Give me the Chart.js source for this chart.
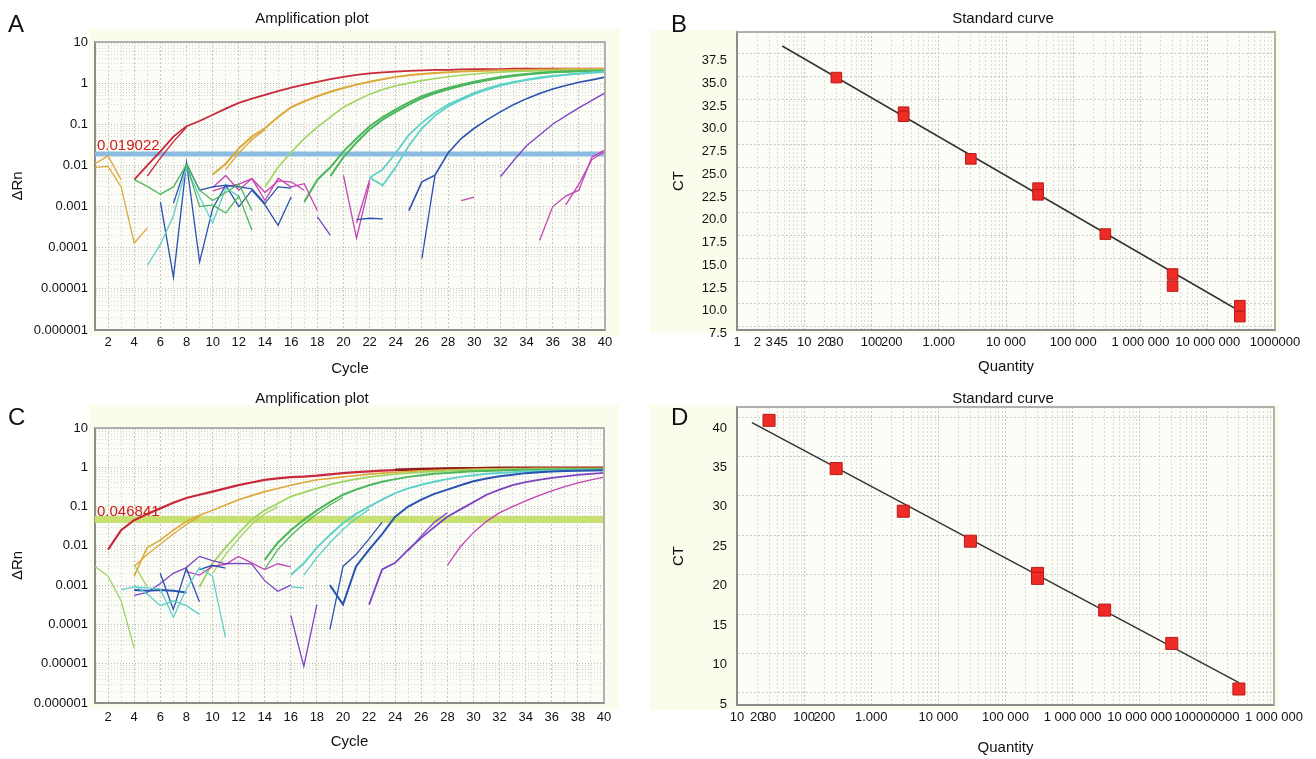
<!DOCTYPE html>
<html>
<head>
<meta charset="utf-8">
<script src="https://cdn.jsdelivr.net/npm/chart.js@4.4.1/dist/chart.umd.min.js"></script>
<style>
body { margin: 0; background: #fff; width: 1316px; height: 759px; position: relative; overflow: hidden; font-family: "Liberation Sans", Arial, sans-serif; color: #111; }
canvas { position: absolute; z-index: 1; }
.title { position: absolute; z-index: 2; font-size: 15px; line-height: 17px; transform: translateX(-50%); white-space: nowrap; }
.letter { position: absolute; z-index: 2; font-size: 24px; line-height: 27px; }
</style>
</head>
<body>
<canvas id="chart-a" width="620" height="380" style="left:0;top:0"></canvas>
<canvas id="chart-b" width="666" height="380" style="left:650px;top:0"></canvas>
<canvas id="chart-c" width="620" height="379" style="left:0;top:380px"></canvas>
<canvas id="chart-d" width="666" height="379" style="left:650px;top:380px"></canvas>
<div class="letter" style="left:8px;top:10px">A</div>
<div class="letter" style="left:671px;top:10px">B</div>
<div class="letter" style="left:8px;top:403px">C</div>
<div class="letter" style="left:671px;top:403px">D</div>
<div class="title" style="left:312px;top:9px">Amplification plot</div>
<div class="title" style="left:1003px;top:9px">Standard curve</div>
<div class="title" style="left:312px;top:389px">Amplification plot</div>
<div class="title" style="left:1003px;top:389px">Standard curve</div>
<script>
// ---- data ----
const cycles = [1, 2, 3, 4, 5, 6, 7, 8, 9, 10, 11, 12, 13, 14, 15, 16, 17, 18, 19, 20,
    21, 22, 23, 24, 25, 26, 27, 28, 29, 30, 31, 32, 33, 34, 35, 36, 37, 38, 39, 40];

// a trace starts at some cycle, nothing is plotted before or after it
function fromCycle(start, values) {
    return cycles.map((c) => {
        const i = c - start;
        return i >= 0 && i < values.length ? values[i] : null;
    });
}

const amp_decades = [0.000001, 0.00001, 0.0001, 0.001, 0.01, 0.1, 1, 10];
const amp_decade_labels = ["0.000001", "0.00001", "0.0001", "0.001", "0.01", "0.1", "1", "10"];
const threshold_a = 0.019022;
const threshold_c = 0.046841;

// panel A
const a_red1 = fromCycle(4, [0.0045, 0.01, 0.022, 0.05, 0.09, 0.12, 0.17, 0.24, 0.33, 0.42, 0.52, 0.64, 0.78, 0.92, 1.08, 1.25, 1.42, 1.58, 1.72, 1.82, 1.9, 1.98, 2.05, 2.1, 2.1, 2.15, 2.2, 2.2, 2.2, 2.25, 2.25, 2.25, 2.25, 2.25, 2.25, 2.25, 2.25]);
const a_red2 = fromCycle(5, [0.0055, 0.015, 0.038, 0.085]);
const a_gold1 = fromCycle(1, [0.009, 0.0095, 0.003, 0.00013, 0.0003]);
const a_gold2 = fromCycle(1, [0.011, 0.017, 0.0045]);
const a_gold_rise1 = fromCycle(10, [0.006, 0.011, 0.026, 0.05, 0.08, 0.15, 0.26, 0.36, 0.48, 0.62, 0.76, 0.92, 1.08, 1.25, 1.42, 1.55, 1.66, 1.76, 1.85, 1.92, 1.97, 2.0, 2.05, 2.1, 2.1, 2.15, 2.15, 2.2, 2.2, 2.2, 2.2]);
const a_gold_rise2 = fromCycle(11, [0.008, 0.02, 0.042, 0.075]);
const a_ltgreen = fromCycle(14, [0.003, 0.009, 0.021, 0.045, 0.085, 0.15, 0.26, 0.38, 0.54, 0.7, 0.86, 1.0, 1.15, 1.3, 1.43, 1.55, 1.67, 1.77, 1.85, 1.92, 1.96, 2.0, 2.0, 2.05, 2.05, 2.1, 2.1]);
const a_green_base1 = fromCycle(4, [0.0045, 0.0031, 0.002, 0.003, 0.0105, 0.001, 0.0011, 0.0007, 0.0018, 0.00027]);
const a_green_base2 = fromCycle(8, [0.011, 0.0025, 0.0014, 0.0022, 0.0035, 0.0008]);
const a_green1 = fromCycle(17, [0.0013, 0.0045, 0.009, 0.022, 0.045, 0.09, 0.15, 0.23, 0.34, 0.48, 0.62, 0.76, 0.92, 1.08, 1.25, 1.42, 1.55, 1.68, 1.78, 1.86, 1.92, 1.96, 2.0, 2.0]);
const a_green2 = fromCycle(19, [0.0055, 0.016, 0.036, 0.075, 0.13, 0.2, 0.3, 0.43, 0.57, 0.71, 0.86, 1.02, 1.18, 1.35, 1.5, 1.63, 1.74, 1.83, 1.9, 1.95, 1.98, 2.0]);
const a_cyan_base = fromCycle(5, [0.000037, 0.00012, 0.0006, 0.009, 0.0017, 0.0004, 0.0028, 0.0018]);
const a_cyan1 = fromCycle(22, [0.005, 0.008, 0.02, 0.055, 0.11, 0.19, 0.3, 0.42, 0.58, 0.75, 0.92, 1.08, 1.22, 1.38, 1.5, 1.62, 1.72, 1.82, 1.9]);
const a_cyan2 = fromCycle(22, [0.005, 0.0033, 0.009, 0.03, 0.08, 0.16, 0.27, 0.39, 0.54, 0.7, 0.87, 1.03, 1.18, 1.33, 1.46, 1.58, 1.68, 1.78, 1.86]);
const a_blue_base1 = fromCycle(6, [0.0013, 0.000019, 0.0115, 0.000045, 0.0009, 0.0033, 0.001, 0.0025, 0.0011, 0.00035, 0.0017]);
const a_blue_base2 = fromCycle(7, [0.0012, 0.011, 0.0025, 0.003, 0.0033, 0.003, 0.0027, 0.0012, 0.003, 0.0028]);
const a_blue_bit = fromCycle(21, [0.00048, 0.00052, 0.0005]);
const a_blue1 = fromCycle(25, [0.0008, 0.004, 0.0058, 0.02, 0.045, 0.08, 0.13, 0.2, 0.3, 0.42, 0.56, 0.72, 0.88, 1.05, 1.2, 1.4]);
const a_blue2 = fromCycle(26, [0.000055, 0.0058]);
const a_purple_base = fromCycle(18, [0.00057, 0.0002]);
const a_purple1 = fromCycle(32, [0.0053, 0.013, 0.03, 0.055, 0.1, 0.16, 0.25, 0.38, 0.58]);
const a_mag_base1 = fromCycle(10, [0.0029, 0.0057, 0.0025, 0.0048, 0.0014, 0.0049, 0.003, 0.0036, 0.0008]);
const a_mag_base2 = fromCycle(10, [0.0024, 0.003, 0.0035, 0.0048, 0.0022, 0.0042, 0.004, 0.0025]);
const a_mag_v1 = fromCycle(20, [0.0057, 0.00017, 0.0037]);
const a_mag_v2 = fromCycle(21, [0.0004, 0.0045]);
const a_mag_bit = fromCycle(29, [0.0014, 0.0017]);
const a_mag_late1 = fromCycle(35, [0.00015, 0.001, 0.0018, 0.0025, 0.016, 0.024]);
const a_mag_late2 = fromCycle(37, [0.0011, 0.0035, 0.014, 0.022]);

// panel C
const c_red1 = fromCycle(2, [0.008, 0.025, 0.045, 0.065, 0.09, 0.125, 0.165, 0.2, 0.24, 0.29, 0.35, 0.41, 0.48, 0.52, 0.56, 0.58, 0.61, 0.66, 0.71, 0.75, 0.79, 0.82, 0.85, 0.87, 0.89, 0.9, 0.91, 0.92, 0.92, 0.93, 0.93, 0.94, 0.94, 0.95, 0.95, 0.95, 0.95, 0.95, 0.95]);
const c_red_dark = fromCycle(24, [0.86, 0.88, 0.9, 0.92, 0.93, 0.94, 0.95, 0.96, 0.97, 0.97, 0.98, 0.98, 0.98, 0.98, 0.98, 0.98, 0.98]);
const c_gold1 = fromCycle(4, [0.0017, 0.009, 0.014, 0.025, 0.042, 0.06, 0.08, 0.11, 0.15, 0.19, 0.24, 0.29, 0.35, 0.41, 0.48, 0.52, 0.57, 0.62, 0.67, 0.71, 0.75, 0.78, 0.81, 0.84, 0.86, 0.88, 0.9, 0.91, 0.92, 0.93, 0.93, 0.94, 0.94, 0.94, 0.94, 0.94, 0.94]);
const c_gold2 = fromCycle(4, [0.003, 0.006, 0.011, 0.02, 0.035, 0.055]);
const c_green_base1 = fromCycle(1, [0.003, 0.0017, 0.0004, 0.000025]);
const c_green_base2 = fromCycle(4, [0.0033, 0.0009]);
const c_ltgreen1 = fromCycle(9, [0.0009, 0.0036, 0.009, 0.021, 0.046, 0.08, 0.12, 0.18, 0.23, 0.29, 0.36, 0.43, 0.5, 0.56, 0.62, 0.67, 0.71, 0.75, 0.78, 0.81, 0.83, 0.85, 0.87, 0.88, 0.89, 0.9, 0.9, 0.91, 0.91, 0.91, 0.91, 0.91]);
const c_ltgreen2 = fromCycle(10, [0.002, 0.006, 0.015, 0.035, 0.065, 0.1]);
const c_green1 = fromCycle(14, [0.0044, 0.012, 0.025, 0.046, 0.08, 0.13, 0.2, 0.27, 0.35, 0.43, 0.5, 0.57, 0.63, 0.68, 0.72, 0.76, 0.79, 0.81, 0.83, 0.85, 0.86, 0.87, 0.88, 0.88, 0.89, 0.89, 0.89]);
const c_green2 = fromCycle(14, [0.0025, 0.008, 0.018, 0.036, 0.065, 0.11, 0.17]);
const c_cyan_base1 = fromCycle(3, [0.00076, 0.0009, 0.00085, 0.0008, 0.00015, 0.0008, 0.0028, 0.0017, 0.000046]);
const c_cyan_base2 = fromCycle(4, [0.001, 0.0006, 0.0003, 0.0004, 0.0003, 0.00018]);
const c_cyan1 = fromCycle(16, [0.0018, 0.0036, 0.009, 0.019, 0.038, 0.065, 0.1, 0.15, 0.22, 0.29, 0.36, 0.43, 0.5, 0.57, 0.63, 0.68, 0.72, 0.75, 0.78, 0.8, 0.82, 0.83, 0.84, 0.85, 0.85]);
const c_cyan2 = fromCycle(17, [0.0018, 0.005, 0.012, 0.026, 0.05, 0.085]);
const c_cyan_bit = fromCycle(16, [0.0009, 0.00085]);
const c_blue_base1 = fromCycle(4, [0.00075, 0.00072, 0.00075, 0.00072, 0.00065]);
const c_blue_base2 = fromCycle(6, [0.002, 0.00024, 0.0027, 0.00038]);
const c_blue_base3 = fromCycle(9, [0.0025, 0.0032, 0.0027]);
const c_blue1 = fromCycle(19, [0.001, 0.00032, 0.003, 0.008, 0.02, 0.055, 0.1, 0.15, 0.21, 0.27, 0.35, 0.44, 0.52, 0.59, 0.65, 0.71, 0.75, 0.78, 0.8, 0.82, 0.83, 0.84]);
const c_blue2 = fromCycle(19, [0.000075, 0.003, 0.006, 0.015, 0.04]);
const c_purple_base1 = fromCycle(4, [0.00055, 0.00065, 0.0011, 0.002, 0.0028, 0.0054, 0.0042, 0.0035, 0.0036, 0.0035, 0.0013, 0.0007, 0.001]);
const c_purple_base2 = fromCycle(16, [0.00017, 0.0000085, 0.00032]);
const c_purple1 = fromCycle(22, [0.00032, 0.0025, 0.0037, 0.008, 0.016, 0.03, 0.055, 0.085, 0.13, 0.2, 0.27, 0.35, 0.42, 0.48, 0.54, 0.59, 0.64, 0.68, 0.72]);
const c_purple2 = fromCycle(25, [0.0075, 0.018, 0.04, 0.07]);
const c_mag_base = fromCycle(8, [0.0022, 0.0018, 0.003, 0.0034, 0.0054, 0.0037, 0.0025, 0.0035, 0.0029]);
const c_mag1 = fromCycle(28, [0.0032, 0.0095, 0.022, 0.042, 0.07, 0.1, 0.14, 0.19, 0.25, 0.32, 0.4, 0.48, 0.56]);

// panel B standard curve
const qty_b = [30, 300, 300, 3000, 30000, 30000, 300000, 3000000, 3000000, 30000000, 30000000];
const ct_b = [34.87, 31.06, 30.62, 25.94, 22.72, 21.99, 17.67, 13.28, 11.96, 9.8, 8.6];
const fit_qty_b = [4.7, 28000000];
const fit_ct_b = [38.34, 9.33];
const y_ticks_b = [7.5, 10, 12.5, 15, 17.5, 20, 22.5, 25, 27.5, 30, 32.5, 35, 37.5];
const x_ticks_b = [1, 2, 3, 4, 5, 10, 20, 30, 100, 200, 1000, 10000, 100000, 1000000, 10000000, 100000000];
const x_labels_b = ["1", "2", "3", "4", "5", "10", "20", "30", "100", "200", "1.000", "10 000", "100 000", "1 000 000", "10 000 000", "1000000"];

// panel D standard curve
const qty_d = [30, 300, 3000, 30000, 300000, 300000, 3000000, 30000000, 300000000];
const ct_d = [39.58, 33.46, 28.05, 24.25, 20.16, 19.53, 15.51, 11.28, 5.5];
const fit_qty_d = [16.7, 300000000];
const fit_ct_d = [39.28, 6.3];
const y_ticks_d = [5, 10, 15, 20, 25, 30, 35, 40];
const x_ticks_d = [10, 20, 30, 100, 200, 1000, 10000, 100000, 1000000, 10000000, 100000000, 1000000000];
const x_labels_d = ["10", "20", "30", "100", "200", "1.000", "10 000", "100 000", "1 000 000", "10 000 000", "100000000", "1 000 000"];

// ---- drawing ----
const col = {
    red: "#c8283c", darkred: "#8e1a1a", gold: "#dca83a", ltgreen: "#9ed462", green: "#4cb65c",
    cyan: "#5ed2c8", blue: "#2a52b0", purple: "#7c44c4", magenta: "#c244b4"
};

Chart.defaults.font.family = '"Liberation Sans", Arial, sans-serif';
Chart.defaults.font.size = 13;
Chart.defaults.color = "#111";

const backdrop = {
    id: "backdrop",
    beforeDraw(chart, args, o) {
        const { ctx, chartArea: a } = chart;
        ctx.save();
        ctx.fillStyle = "#fcfcec";
        ctx.fillRect(a.left + o.l, a.top + o.t, (a.right + o.r) - (a.left + o.l), (a.bottom + o.b) - (a.top + o.t));
        ctx.fillStyle = "#fdfdf7";
        ctx.fillRect(a.left, a.top, a.right - a.left, a.bottom - a.top);
        ctx.restore();
    },
    afterDraw(chart) {
        const { ctx, chartArea: a } = chart;
        ctx.save();
        ctx.strokeStyle = "#b0b0b0";
        ctx.lineWidth = 2;
        ctx.beginPath();
        ctx.moveTo(a.left, a.top);
        ctx.lineTo(a.right, a.top);
        ctx.lineTo(a.right, a.bottom);
        ctx.stroke();
        ctx.restore();
    }
};

const thresholdLabel = {
    id: "thresholdLabel",
    afterDatasetsDraw(chart, args, o) {
        if (!o.text) return;
        const { ctx, chartArea: a } = chart;
        const y = chart.scales.y.getPixelForValue(o.value);
        ctx.save();
        ctx.font = '15px "Liberation Sans", Arial, sans-serif';
        ctx.fillStyle = "#d0201c";
        ctx.textBaseline = "middle";
        ctx.fillText(o.text, a.left + 2, y - 8);
        ctx.restore();
    }
};

Chart.register(backdrop, thresholdLabel);

const sameValue = (a, b) => Math.abs(a - b) <= Math.abs(b) * 1e-9;

// every 1..9 x 10^n line of a log axis
function logGrid(min, max) {
    const out = [];
    for (let e = Math.round(Math.log10(min)); e <= Math.round(Math.log10(max)); e++) {
        for (let k = 1; k <= 9; k++) {
            const v = k * Math.pow(10, e);
            if (v >= min * 0.999 && v <= max * 1.001) out.push(v);
        }
    }
    return out;
}

const isDecade = (v) => sameValue(v / Math.pow(10, Math.round(Math.log10(v))), 1);

function ampChart(id, traces, threshold, thr_color, thr_width, thr_text, box) {
    const datasets = traces.map(([data, color, width]) => ({
        data: data,
        borderColor: color,
        borderWidth: width || 1.3,
        pointRadius: 0,
        tension: 0,
        spanGaps: false
    }));
    datasets.push({
        data: [{ x: 1, y: threshold }, { x: 40, y: threshold }],
        borderColor: thr_color,
        borderWidth: thr_width,
        pointRadius: 0
    });
    return new Chart(document.getElementById(id), {
        type: "line",
        data: { labels: cycles, datasets: datasets },
        options: {
            responsive: false,
            animation: false,
            devicePixelRatio: 1,
            layout: { padding: { top: box.top, right: box.right, left: 0, bottom: 0 } },
            plugins: {
                legend: { display: false },
                tooltip: { enabled: false },
                backdrop: { l: -6, t: box.bt, r: 15, b: 6 },
                thresholdLabel: { text: thr_text, value: threshold }
            },
            scales: {
                x: {
                    type: "linear", min: 1, max: 40,
                    afterBuildTicks: (s) => { s.ticks = cycles.map((v) => ({ value: v })); },
                    afterFit: (s) => { s.height = box.xh; },
                    ticks: {
                        autoSkip: false, maxRotation: 0, padding: box.xpad,
                        callback: (v) => (v % 2 === 0 ? String(v) : "")
                    },
                    grid: {
                        drawTicks: false,
                        color: (ctx) => (ctx.tick && ctx.tick.value % 2 === 0 ? "#c8c8c8" : "#dedede")
                    },
                    border: { color: "#8c8c8c", width: 2, dash: [2, 2] },
                    title: { display: true, text: "Cycle", font: { size: 15 }, padding: { top: 0, bottom: box.xtb } }
                },
                y: {
                    type: "logarithmic", min: 0.000001, max: 10,
                    afterBuildTicks: (s) => { s.ticks = logGrid(0.000001, 10).map((v) => ({ value: v })); },
                    afterFit: (s) => { s.width = 95; },
                    ticks: {
                        autoSkip: false, padding: 7,
                        callback: (v) => {
                            const i = amp_decades.findIndex((d) => sameValue(v, d));
                            return i >= 0 ? amp_decade_labels[i] : "";
                        }
                    },
                    grid: {
                        drawTicks: false,
                        color: (ctx) => (ctx.tick && isDecade(ctx.tick.value) ? "#bdbdbd" : "#d8d8d8")
                    },
                    border: { color: "#8c8c8c", width: 2, dash: [1, 2] },
                    title: { display: true, text: "ΔRn", font: { size: 15 }, padding: { top: 9, bottom: 0 } }
                }
            }
        }
    });
}

function stdChart(id, qty, ct, fit_qty, fit_ct, cfg) {
    const points = qty.map((q, i) => ({ x: q, y: ct[i] }));
    const fit = fit_qty.map((q, i) => ({ x: q, y: fit_ct[i] }));
    return new Chart(document.getElementById(id), {
        type: "scatter",
        data: {
            datasets: [
                {
                    data: points,
                    pointStyle: "rect",
                    pointRadius: cfg.radius,
                    backgroundColor: "#ee2b24",
                    borderColor: "#b81a1a",
                    borderWidth: 1
                },
                {
                    data: fit,
                    showLine: true,
                    pointRadius: 0,
                    borderColor: "#333333",
                    borderWidth: 1.5
                }
            ]
        },
        options: {
            responsive: false,
            animation: false,
            devicePixelRatio: 1,
            layout: { padding: { top: cfg.top, right: cfg.right, left: 0, bottom: 0 } },
            plugins: {
                legend: { display: false },
                tooltip: { enabled: false },
                backdrop: { l: -87, t: -2, r: 5, b: cfg.bb }
            },
            scales: {
                x: {
                    type: "logarithmic", min: cfg.xmin, max: cfg.xmax,
                    afterBuildTicks: (s) => { s.ticks = logGrid(cfg.xmin, cfg.xmax).map((v) => ({ value: v })); },
                    afterFit: (s) => { s.height = cfg.xh; },
                    ticks: {
                        autoSkip: false, maxRotation: 0, padding: cfg.xpad,
                        callback: (v) => {
                            const i = cfg.xticks.findIndex((t) => sameValue(v, t));
                            return i >= 0 ? cfg.xlabels[i] : "";
                        }
                    },
                    grid: {
                        drawTicks: false,
                        color: (ctx) => (ctx.tick && isDecade(ctx.tick.value) ? "#c4c4c4" : "#dcdcdc")
                    },
                    border: { color: "#8c8c8c", width: 2, dash: [2, 2] },
                    title: { display: true, text: "Quantity", font: { size: 15 }, padding: { top: 0, bottom: cfg.xtb } }
                },
                y: {
                    type: "linear", min: cfg.ymin, max: cfg.ymax,
                    afterBuildTicks: (s) => { s.ticks = cfg.yticks.map((v) => ({ value: v })); },
                    afterFit: (s) => { s.width = 87; },
                    ticks: {
                        autoSkip: false, padding: 10, labelOffset: cfg.labelOffset,
                        callback: (v) => v.toFixed(cfg.decimals)
                    },
                    grid: { drawTicks: false, color: "#c8c8c8" },
                    border: { color: "#8c8c8c", width: 2, dash: [2, 2] },
                    title: { display: true, text: "CT", font: { size: 15 }, padding: { top: 20, bottom: 0 } }
                }
            }
        }
    });
}

ampChart("chart-a", [
    [a_gold1, col.gold], [a_gold2, col.gold],
    [a_green_base1, col.green], [a_green_base2, col.green],
    [a_cyan_base, col.cyan],
    [a_blue_base1, col.blue], [a_blue_base2, col.blue], [a_blue_bit, col.blue],
    [a_mag_base1, col.magenta], [a_mag_base2, col.magenta],
    [a_mag_v1, col.magenta], [a_mag_v2, col.magenta], [a_mag_bit, col.magenta],
    [a_purple_base, col.purple],
    [a_mag_late1, col.magenta], [a_mag_late2, col.magenta],
    [a_purple1, col.purple],
    [a_blue1, col.blue, 1.6], [a_blue2, col.blue],
    [a_cyan1, col.cyan, 1.8], [a_cyan2, col.cyan, 1.8],
    [a_green1, col.green, 2], [a_green2, col.green, 2],
    [a_ltgreen, col.ltgreen, 1.6],
    [a_gold_rise1, col.gold, 2], [a_gold_rise2, col.gold],
    [a_red1, col.red, 1.8], [a_red2, col.red]
], threshold_a, "#8cbce2", 5, "0.019022", { top: 42, right: 15, xh: 50, xpad: 5, xtb: 2, bt: -13 });

stdChart("chart-b", qty_b, ct_b, fit_qty_b, fit_ct_b, {
    top: 32, right: 41, xh: 50, xpad: 5, xtb: 4, bb: 3,
    xmin: 1, xmax: 100000000, xticks: x_ticks_b, xlabels: x_labels_b,
    ymin: 7.13, ymax: 39.88, yticks: y_ticks_b, decimals: 1, labelOffset: 7, radius: 7.5
});

ampChart("chart-c", [
    [c_green_base1, col.ltgreen], [c_green_base2, col.ltgreen],
    [c_cyan_base1, col.cyan], [c_cyan_base2, col.cyan], [c_cyan_bit, col.cyan],
    [c_blue_base1, col.blue, 2], [c_blue_base2, col.blue], [c_blue_base3, col.blue],
    [c_purple_base1, col.purple], [c_purple_base2, col.purple],
    [c_mag_base, col.magenta],
    [c_mag1, col.magenta],
    [c_purple1, col.purple, 1.8], [c_purple2, col.purple],
    [c_blue1, col.blue, 2], [c_blue2, col.blue],
    [c_cyan1, col.cyan, 2], [c_cyan2, col.cyan],
    [c_green1, col.green, 2], [c_green2, col.green],
    [c_ltgreen1, col.ltgreen, 1.8], [c_ltgreen2, col.ltgreen],
    [c_gold1, col.gold, 1.6], [c_gold2, col.gold],
    [c_red_dark, col.darkred, 2.5],
    [c_red1, col.red, 2.2]
], threshold_c, "#c8e070", 7, "0.046841", { top: 48, right: 16, xh: 56, xpad: 7, xtb: 8, bt: -23 });

stdChart("chart-d", qty_d, ct_d, fit_qty_d, fit_ct_d, {
    top: 27, right: 42, xh: 54, xpad: 5, xtb: 2, bb: 5,
    xmin: 10, xmax: 1000000000, xticks: x_ticks_d, xlabels: x_labels_d,
    ymin: 3.47, ymax: 41.27, yticks: y_ticks_d, decimals: 0, labelOffset: 11, radius: 8.5
});
</script>
</body>
</html>
